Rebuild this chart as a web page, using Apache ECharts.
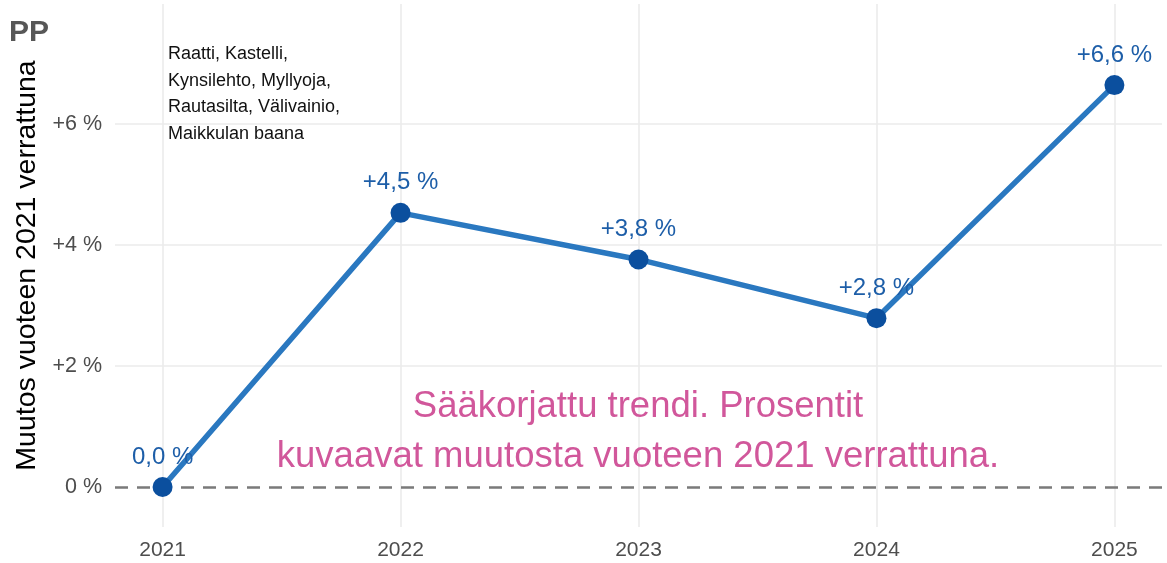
<!DOCTYPE html>
<html lang="fi">
<head>
    <meta charset="UTF-8">
    <title>PP</title>
    <script src="https://cdn.jsdelivr.net/npm/echarts@6/dist/echarts.min.js"></script>
    <style>
        html, body { margin: 0; padding: 0; background: #fff; }
    </style>
</head>
<body>
<div id="main" style="width: 1167px;height:563px;"></div>
<script>
    // data
    var years = [2021, 2022, 2023, 2024, 2025];
    var change = [0, 4.53, 3.76, 2.79, 6.64];
    var yTicks = [0, 2, 4, 6];
    var areaText = 'Raatti, Kastelli,\nKynsilehto, Myllyoja,\nRautasilta, Välivainio,\nMaikkulan baana';
    var noteText = 'Sääkorjattu trendi. Prosentit\nkuvaavat muutosta vuoteen 2021 verrattuna.';

    var font = 'Liberation Sans, Arial, sans-serif';

    function pct(v, dec) {
        var s = v.toFixed(dec).replace('.', ',');
        return (v > 0 ? '+' : '') + s + ' %';
    }

    var gridLines = [];
    years.forEach(function (y) { gridLines.push({xAxis: y}); });
    yTicks.forEach(function (v) { if (v !== 0) gridLines.push({yAxis: v}); });

    var myChart = echarts.init(document.getElementById('main'));
    option = {
        animation: false,
        textStyle: {fontFamily: font},
        title: {
            text: 'PP',
            left: 4,
            top: 13,
            textStyle: {fontSize: 30, fontWeight: 'bold', color: '#575757', fontFamily: font}
        },
        grid: {left: 115, right: 5, top: 4, bottom: 36},
        xAxis: {
            type: 'value',
            min: 2020.8,
            max: 2025.2,
            axisLine: {show: false},
            axisTick: {show: false},
            splitLine: {show: false},
            axisLabel: {
                customValues: years,
                formatter: function (v) { return String(v); },
                fontSize: 21,
                color: '#4d4d4d',
                margin: 13
            }
        },
        yAxis: {
            type: 'value',
            min: -0.66,
            max: 7.98,
            name: 'Muutos vuoteen 2021 verrattuna',
            nameLocation: 'middle',
            nameGap: 73,
            nameTextStyle: {fontSize: 28.5, color: '#000'},
            axisLine: {show: false},
            axisTick: {show: false},
            splitLine: {show: false},
            axisLabel: {
                customValues: yTicks,
                formatter: function (v) { return v === 0 ? '0 %' : '+' + v + ' %'; },
                fontSize: 21.5,
                color: '#4d4d4d',
                margin: 13
            }
        },
        series: [
            {
                // gridlines + zero line
                type: 'line',
                data: [],
                z: 1,
                silent: true,
                markLine: {
                    silent: true,
                    z: 1,
                    symbol: 'none',
                    label: {show: false},
                    lineStyle: {color: '#ebebeb', width: 1.6, type: 'solid'},
                    data: gridLines.concat([{
                        yAxis: 0,
                        lineStyle: {color: '#7a7a7a', width: 2.5, type: [13, 9]}
                    }])
                }
            },
            {
                type: 'line',
                z: 3,
                data: years.map(function (y, i) { return [y, change[i]]; }),
                symbol: 'circle',
                symbolSize: 20,
                lineStyle: {color: '#2a78c0', width: 5.5},
                itemStyle: {color: '#0b4f9e'},
                label: {
                    show: true,
                    position: 'top',
                    distance: 8,
                    fontSize: 24,
                    color: '#1d5ea8',
                    formatter: function (p) { return pct(p.value[1], 1); }
                }
            }
        ],
        graphic: [
            {
                type: 'group',
                z: 100,
                children: [
                    {
                        type: 'rect',
                        shape: {x: 160, y: 40, width: 188, height: 112},
                        style: {fill: '#fff'}
                    },
                    {
                        type: 'text',
                        x: 168,
                        y: 41,
                        style: {
                            text: areaText,
                            font: '18px ' + font,
                            lineHeight: 26.5,
                            fill: '#111',
                            verticalAlign: 'top'
                        }
                    }
                ]
            },
            {
                type: 'text',
                z: 100,
                x: 638,
                y: 432,
                style: {
                    text: noteText,
                    font: '36.5px ' + font,
                    lineHeight: 50,
                    fill: '#d1579b',
                    align: 'center',
                    verticalAlign: 'middle'
                }
            }
        ]
    };

    myChart.setOption(option);
</script>
</body>
</html>
